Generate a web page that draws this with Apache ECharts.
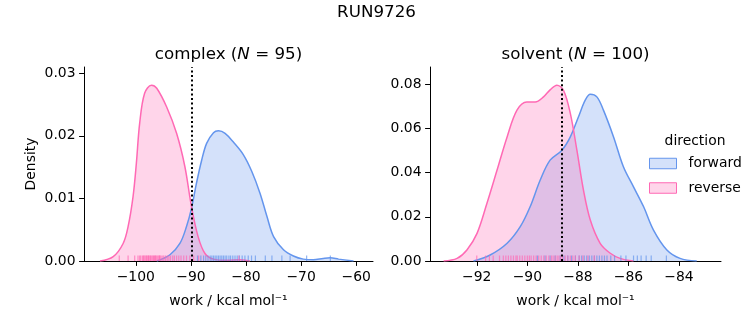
<!DOCTYPE html>
<html><head><meta charset="utf-8">
<script src="https://cdn.jsdelivr.net/npm/echarts@6/dist/echarts.min.js"></script>
<style>html,body{margin:0;padding:0;background:#fff}#c{width:753px;height:325px}</style>
</head><body><div id="c"></div>
<script>
// ---- data ----
// complex leg, KDE curves (x = work, y = density)
const cxRevX = [-106.5,-104.1,-102.3,-101.4,-100.5,-99.9,-99.3,-98.4,-97.15,-96.2,-94.4,-92.6,-91.1,-89.9,-88.7,-87.45,-85.9,-83.5,-81.2,-79.3];
const cxRevY = [0,0.0007,0.0028,0.0055,0.0103,0.0156,0.022,0.0268,0.0281,0.0276,0.0246,0.0204,0.0151,0.0087,0.0039,0.0012,0.0003,0.0001,0.0002,0];
const cxFwdX = [-96.2,-93.8,-92,-90.8,-89.9,-89,-88.05,-87.15,-85.9,-85.0,-83.8,-82.3,-80.5,-78.95,-77.45,-76.2,-75.0,-73.2,-71.4,-69.6,-67.8,-66.0,-64.7,-63.2,-60.5];
const cxFwdY = [0,0.001,0.0028,0.0055,0.0084,0.0124,0.0161,0.0188,0.0205,0.0208,0.0204,0.0190,0.0170,0.0143,0.0108,0.0071,0.0039,0.0018,0.0008,0.0003,0.0002,0.0004,0.0005,0.0003,0];
// solvent leg, KDE curves
const svRevX = [-93.31,-92.78,-92.39,-91.99,-91.6,-91.2,-90.8,-90.41,-90.02,-89.69,-89.36,-89.09,-88.83,-88.57,-88.3,-88.04,-87.78,-87.51,-87.12,-86.72,-86.33,-85.8];
const svRevY = [0,0.0012,0.005,0.0125,0.026,0.041,0.0561,0.0682,0.0719,0.0719,0.0742,0.0775,0.0795,0.0772,0.0667,0.0501,0.032,0.0185,0.008,0.0035,0.0012,0];
const svFwdX = [-92.13,-91.47,-90.8,-90.28,-89.89,-89.49,-89.1,-88.63,-88.3,-87.98,-87.71,-87.51,-87.25,-86.99,-86.59,-86.2,-85.8,-85.4,-85.01,-84.48,-83.96,-83.3];
const svFwdY = [0,0.0027,0.008,0.0155,0.0245,0.0366,0.0456,0.0501,0.0561,0.0651,0.0727,0.0754,0.0742,0.0682,0.0561,0.0426,0.0335,0.0245,0.014,0.005,0.0012,0];
// rug (individual work values)
const cxRevRug = [-103.0,-101.4,-100.2,-99.6,-99.3,-99.1,-98.8,-98.6,-98.5,-98.3,-98.1,-98.0,-97.8,-97.7,-97.6,-97.4,-97.3,-97.1,-96.9,-96.8,-96.6,-96.5,-96.4,-96.2,-96.0,-95.8,-95.7,-95.6,-95.4,-95.1,-94.9,-94.6,-94.3,-94.0,-93.7,-93.3,-93.0,-92.6,-92.2,-91.8,-91.3,-90.8,-90.2,-89.5,-88.6,-81.3];
const cxFwdRug = [-88.8,-88.2,-87.7,-87.3,-86.9,-86.5,-86.2,-85.9,-85.6,-85.3,-85.0,-84.7,-84.4,-84.1,-83.8,-83.5,-83.1,-82.8,-82.4,-82.0,-81.6,-81.2,-80.7,-80.2,-79.6,-79.0,-78.3,-76.5,-75.3,-73.5,-72.0,-69.0,-64.7];
const svRevRug = [-92.0,-91.65,-91.5,-91.35,-91.1,-90.95,-90.85,-90.75,-90.65,-90.55,-90.45,-90.4,-90.3,-90.2,-90.1,-90.0,-89.92,-89.85,-89.75,-89.65,-89.55,-89.45,-89.35,-89.25,-89.15,-89.05,-88.98,-88.9,-88.82,-88.75,-88.68,-88.6,-88.5,-88.4,-88.3,-88.2,-88.1,-87.95,-87.8,-87.6,-87.35];
const svFwdRug = [-89.6,-89.3,-89.1,-88.9,-88.7,-88.55,-88.4,-88.25,-88.1,-87.95,-87.85,-87.75,-87.65,-87.55,-87.45,-87.35,-87.25,-87.15,-87.05,-86.95,-86.85,-86.7,-86.55,-86.3,-86.1,-85.8,-85.65,-85.5,-85.3,-85.1,-84.5];
// dotted reference lines (work values)
const refLines = [-89.9, -88.63];
// tick labels
const cxTicks = [-100,-90,-80,-70,-60];
const svTicks = [-92,-90,-88,-86,-84];
const cxDensTicks = [0,0.01,0.02,0.03];
const svDensTicks = [0,0.02,0.04,0.06,0.08];
const panelTitles = ['complex', 'solvent'];
const panelN = [95, 100];

// ---- styling ----
const FONT = 'DejaVu Sans';
const BLUE = '#6495ED', PINK = '#FF69B4';
const BLUE_F = 'rgba(100,149,237,0.28)', PINK_F = 'rgba(255,105,180,0.28)';
const zip = (xs, ys) => xs.map((x, i) => [x, ys[i]]);
const minus = v => (v < 0 ? '\u2212' : '') + Math.abs(v);

function xAx(idx, min, max, ticks) {
  return {
    type: 'value', gridIndex: idx, min, max,
    name: 'work / kcal mol\u207B\u00B9', nameLocation: 'middle', nameGap: 33,
    nameTextStyle: { fontFamily: FONT, fontSize: 13.9, color: '#000' },
    axisLine: { show: true, onZero: false, lineStyle: { color: '#000', width: 1 } },
    axisTick: { show: true, length: 4.9, customValues: ticks, lineStyle: { color: '#000', width: 1 } },
    axisLabel: { customValues: ticks, margin: 9, fontFamily: FONT, fontSize: 13.9, color: '#000', formatter: minus },
    splitLine: { show: false }
  };
}
function yAx(idx, max, ticks, name) {
  return {
    type: 'value', gridIndex: idx, min: 0, max,
    name: name, nameLocation: 'middle', nameGap: 46,
    nameTextStyle: { fontFamily: FONT, fontSize: 13.9, color: '#000' },
    axisLine: { show: true, onZero: false, lineStyle: { color: '#000', width: 1 } },
    axisTick: { show: true, length: 4.9, customValues: ticks, lineStyle: { color: '#000', width: 1 } },
    axisLabel: { customValues: ticks, margin: 8.5, fontFamily: FONT, fontSize: 13.9, color: '#000', formatter: v => v.toFixed(2) },
    splitLine: { show: false }
  };
}
function kde(name, idx, xs, ys, line, fill, mark) {
  const s = {
    name, type: 'line', xAxisIndex: idx, yAxisIndex: idx, data: zip(xs, ys),
    smooth: 0.35, symbol: 'none', lineStyle: { color: line, width: 1.5 }, itemStyle: { color: line },
    areaStyle: { color: fill, opacity: 1, origin: 'start' }, z: 2, animation: false
  };
  if (mark !== undefined) {
    s.markLine = {
      silent: true, symbol: ['none', 'none'], label: { show: false },
      lineStyle: { color: '#000', width: 2, type: [2, 2.6] },
      data: [{ xAxis: mark }], animation: false
    };
  }
  return s;
}
function rug(name, idx, vals, color) {
  return {
    name, type: 'scatter', xAxisIndex: idx, yAxisIndex: idx,
    data: vals.map(v => [v, 0]), symbol: 'rect', symbolSize: [1.2, 5.5], symbolOffset: [0, -2.75],
    itemStyle: { color, opacity: 0.7 }, z: 3, animation: false, silent: true
  };
}

const chart = echarts.init(document.getElementById('c'), null, { renderer: 'canvas' });
chart.setOption({
  backgroundColor: '#fff',
  animation: false,
  title: [
    { text: 'RUN9726', left: 376.5, top: 4, textAlign: 'center', padding: 0,
      textStyle: { fontFamily: FONT, fontSize: 16.7, fontWeight: 'normal', color: '#000' } },
    { text: panelTitles[0] + ' ({i|N} = ' + panelN[0] + ')', left: 228.5, top: 46, textAlign: 'center', padding: 0,
      textStyle: { fontFamily: FONT, fontSize: 16.7, fontWeight: 'normal', color: '#000',
        rich: { i: { fontFamily: FONT, fontSize: 16.7, fontStyle: 'italic', color: '#000' } } } },
    { text: panelTitles[1] + ' ({i|N} = ' + panelN[1] + ')', left: 575.5, top: 46, textAlign: 'center', padding: 0,
      textStyle: { fontFamily: FONT, fontSize: 16.7, fontWeight: 'normal', color: '#000',
        rich: { i: { fontFamily: FONT, fontSize: 16.7, fontStyle: 'italic', color: '#000' } } } },
    { text: 'direction', left: 695, top: 134, textAlign: 'center', padding: 0,
      textStyle: { fontFamily: FONT, fontSize: 13.9, fontWeight: 'normal', color: '#000' } }
  ],
  legend: {
    orient: 'vertical', left: 649, top: 156.5, padding: 0,
    itemWidth: 27, itemHeight: 10.5, itemGap: 10.5,
    textStyle: { fontFamily: FONT, fontSize: 13.9, color: '#000', padding: [0, 0, 0, 7] },
    selectedMode: false,
    data: [
      { name: 'forward', icon: 'rect', itemStyle: { color: BLUE_F, borderColor: BLUE, borderWidth: 1 } },
      { name: 'reverse', icon: 'rect', itemStyle: { color: PINK_F, borderColor: PINK, borderWidth: 1 } }
    ]
  },
  grid: [
    { left: 84, top: 67, width: 289, height: 194 },
    { left: 430, top: 67, width: 291, height: 194 }
  ],
  xAxis: [xAx(0, -109.4, -56.96, cxTicks), xAx(1, -93.85, -82.34, svTicks)],
  yAxis: [yAx(0, 0.031, cxDensTicks, 'Density'), yAx(1, 0.0877, svDensTicks, '')],
  series: [
    kde('forward', 0, cxFwdX, cxFwdY, BLUE, BLUE_F),
    kde('reverse', 0, cxRevX, cxRevY, PINK, PINK_F, refLines[0]),
    kde('forward', 1, svFwdX, svFwdY, BLUE, BLUE_F),
    kde('reverse', 1, svRevX, svRevY, PINK, PINK_F, refLines[1]),
    rug('forward', 0, cxFwdRug, BLUE),
    rug('reverse', 0, cxRevRug, PINK),
    rug('forward', 1, svFwdRug, BLUE),
    rug('reverse', 1, svRevRug, PINK)
  ]
});
</script>
</body></html>
